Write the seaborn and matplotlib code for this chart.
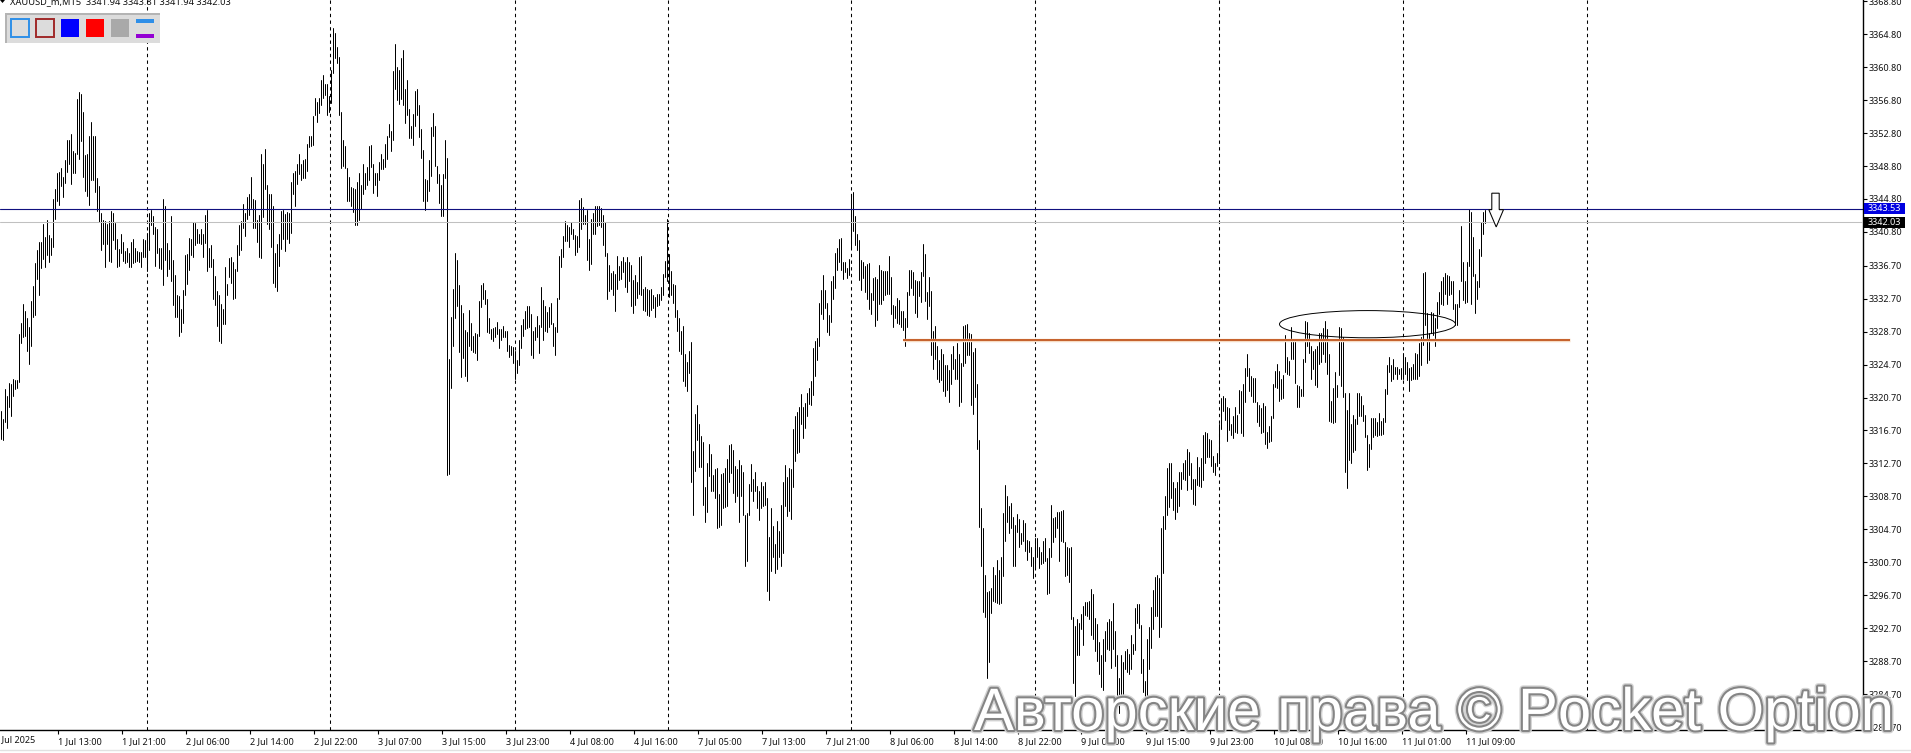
import matplotlib
matplotlib.use("Agg")
import matplotlib.pyplot as plt
import matplotlib.patheffects as pe
from matplotlib.patches import Ellipse, Polygon, Rectangle
from matplotlib.lines import Line2D
from matplotlib.transforms import Affine2D, blended_transform_factory
import pandas as pd
import seaborn as sns

W, H = 1911, 753

highs_a = [3319.1,3318.1,3321.7,3320.9,3322.4,3322.3,3322.9,3322.8,3322.8,3328.4,3329.8,3332.1,3331.2,3330.4,3329.3,3332.4,3334.2,3337.0,3338.6,3339.6,3339.6,3341.8,3340.2,3342.2,3340.4,
3340.1,3344.8,3346.0,3347.9,3348.1,3348.5,3347.5,3349.5,3352.0,3352.0,3352.7,3350.6,3350.4,3356.9,3357.8,3357.6,3355.3,3350.1,3350.3,3352.4,3354.2,3352.4,3352.4,3347.4,3346.4,
3343.1,3342.3,3342.1,3341.8,3342.1,3343.3,3343.1,3341.9,3340.0,3338.7,3340.6,3339.6,3338.5,3338.8,3338.3,3339.6,3339.9,3338.8,3338.5,3338.4,3338.4,3339.9,3339.8,3340.7,3343.1,
3343.5,3342.7,3341.4,3341.2,3338.9,3338.9,3344.8,3344.0,3339.5,3338.6,3342.7,3337.4,3335.6,3333.2,3333.0,3331.4,3333.8,3338.0,3338.1,3340.1,3339.9,3342.0,3341.9,3341.1,3340.5,
3341.1,3340.6,3342.9,3343.5,3338.8,3339.2,3337.5,3335.5,3333.6,3333.2,3332.0,3331.4,3336.5,3334.5,3337.6,3337.8,3337.1,3336.3,3339.2,3341.6,3342.1,3344.2,3343.1,3345.0,3345.4]
lows_a = [3315.7,3315.5,3317.7,3317.0,3319.6,3318.5,3320.9,3321.7,3321.8,3322.6,3327.3,3328.0,3328.2,3326.4,3324.8,3327.0,3330.5,3330.7,3335.1,3333.2,3336.4,3337.5,3336.5,3338.0,3337.2,
3338.0,3339.0,3342.4,3344.5,3344.1,3346.4,3345.0,3346.7,3348.1,3349.0,3346.6,3347.9,3348.0,3350.3,3349.6,3351.8,3347.5,3345.8,3345.2,3344.1,3347.1,3347.1,3345.6,3343.3,3342.0,
3338.6,3339.3,3336.6,3339.3,3337.3,3337.2,3339.8,3338.7,3336.6,3336.7,3338.2,3337.3,3337.0,3337.1,3336.5,3336.5,3337.0,3337.1,3337.3,3337.1,3336.5,3337.8,3337.8,3336.0,3338.6,
3341.6,3340.6,3336.7,3338.3,3336.4,3336.3,3334.3,3337.4,3335.5,3336.3,3334.8,3331.9,3330.5,3330.5,3328.2,3328.7,3329.8,3333.1,3334.5,3336.2,3338.0,3337.7,3339.2,3339.4,3339.4,
3339.3,3337.8,3339.4,3336.1,3336.5,3336.5,3332.6,3331.9,3329.4,3327.6,3327.3,3329.6,3329.6,3333.1,3335.3,3334.6,3332.6,3332.8,3336.0,3338.0,3338.6,3341.3,3340.3,3342.4,3342.9]

highs_b = [3347.5,3344.8,3344.7,3342.3,3342.8,3350.3,3349.0,3350.9,3346.5,3345.4,3345.4,3343.9,3338.2,3339.3,3340.5,3343.3,3343.5,3343.0,3343.2,3343.1,3346.9,3347.9,3348.2,3349.0,3350.3,
3349.1,3349.5,3349.7,3351.5,3352.5,3352.4,3354.9,3357.0,3356.6,3357.1,3359.3,3359.8,3358.8,3358.7,3357.3,3360.5,3365.5,3364.9,3363.3,3362.0,3355.4,3352.0,3351.2,3348.5,3347.5,
3346.3,3346.1,3346.0,3346.9,3348.0,3346.5,3349.0,3348.0,3348.7,3351.2,3351.3,3349.1,3348.0,3347.9,3349.3,3350.3,3349.6,3351.5,3352.5,3353.9,3353.1,3360.3,3363.6,3360.8,3360.5,
3361.9,3362.9,3358.1,3359.2,3355.7,3353.6,3355.1,3357.9,3358.1,3356.2,3353.3,3350.8,3347.2,3347.1,3349.5,3353.5,3355.2,3353.6,3348.8,3347.8,3346.5,3347.8,3352.0,3349.8,3325.4,
3330.5,3333.9,3338.2,3337.4,3334.4,3331.9,3331.0,3328.9,3328.7,3331.3,3329.8,3328.2,3328.5,3328.4,3332.4,3334.4,3334.6,3333.8,3332.6,3330.3,3329.0,3329.1,3329.2,3329.9,3329.0]
lows_b = [3343.7,3341.3,3341.3,3339.6,3337.7,3337.6,3342.6,3346.0,3341.7,3341.1,3339.0,3334.6,3334.1,3333.6,3336.7,3338.7,3339.9,3338.5,3339.9,3339.4,3340.7,3345.4,3343.9,3346.6,3347.8,
3347.1,3347.3,3347.3,3348.2,3351.1,3351.2,3351.3,3355.0,3354.2,3355.2,3356.2,3357.1,3357.4,3355.0,3355.4,3356.5,3360.1,3361.9,3361.3,3355.0,3348.6,3348.8,3348.6,3344.5,3344.6,
3344.0,3343.2,3341.6,3341.6,3342.3,3343.6,3345.4,3346.0,3346.5,3347.1,3348.7,3345.5,3346.5,3345.1,3347.1,3348.4,3348.4,3348.7,3349.7,3352.3,3350.6,3352.0,3358.1,3356.8,3356.3,
3356.9,3356.2,3354.0,3355.0,3352.2,3352.2,3351.3,3353.7,3355.0,3352.3,3349.8,3344.5,3343.5,3344.5,3345.8,3347.6,3352.4,3348.8,3346.7,3344.3,3342.7,3342.7,3347.3,3311.3,3311.4,
3321.8,3326.9,3330.3,3331.8,3326.2,3323.2,3325.5,3323.3,3322.7,3327.0,3326.5,3326.2,3326.1,3325.3,3328.2,3331.7,3332.6,3332.0,3328.6,3328.5,3327.8,3327.6,3328.1,3328.4,3326.7]

highs_c = [3329.0,3329.4,3328.8,3328.8,3327.1,3326.9,3326.8,3326.4,3325.2,3327.7,3329.5,3330.2,3331.2,3331.8,3331.8,3330.8,3328.8,3329.2,3330.6,3329.5,3334.1,3332.5,3331.8,3331.1,3331.7,
3332.2,3329.7,3329.2,3332.8,3337.9,3338.7,3340.3,3342.1,3341.6,3341.4,3342.0,3341.2,3340.4,3340.3,3344.7,3344.9,3343.8,3342.8,3343.5,3339.9,3342.4,3343.1,3343.9,3343.9,3343.9,
3343.7,3342.8,3342.0,3338.3,3336.8,3335.8,3336.0,3335.7,3337.9,3336.7,3337.3,3337.7,3337.1,3337.7,3337.2,3336.8,3335.0,3335.6,3334.7,3337.7,3337.9,3333.9,3334.1,3333.9,3333.7,
3333.9,3333.1,3332.9,3333.3,3333.3,3334.1,3335.7,3337.3,3342.4,3338.1,3336.0,3334.5,3334.3,3331.3,3330.4,3328.8,3329.4,3326.0,3325.0,3326.3,3327.4,3314.2,3318.7,3319.8,3317.5,
3316.0,3315.3,3309.8,3312.7,3315.0,3313.8,3311.3,3312.0,3312.1,3309.0,3311.4,3311.5,3312.1,3313.2,3314.9,3315.0,3314.3,3312.4,3312.0,3313.1,3312.5,3311.7,3306.4,3306.7,3310.2]
lows_c = [3327.7,3328.1,3328.0,3326.3,3325.6,3325.8,3324.9,3322.9,3323.7,3324.7,3326.7,3328.2,3329.0,3329.1,3329.2,3325.8,3325.5,3327.7,3328.1,3326.1,3329.3,3327.7,3328.8,3328.6,3329.2,
3329.6,3326.9,3325.8,3328.7,3332.6,3336.6,3337.7,3339.7,3339.7,3339.0,3340.5,3340.0,3338.0,3338.4,3339.0,3341.1,3341.8,3341.8,3337.4,3336.2,3336.9,3340.5,3340.5,3341.5,3341.6,
3341.4,3339.2,3337.9,3332.6,3333.6,3333.9,3333.1,3331.2,3333.9,3335.0,3335.1,3335.9,3334.1,3333.5,3334.8,3331.8,3331.0,3331.9,3332.8,3333.3,3333.2,3331.3,3331.2,3330.7,3330.6,
3331.3,3331.6,3330.5,3331.8,3331.9,3332.5,3333.1,3335.3,3334.8,3332.9,3333.1,3332.2,3330.5,3328.8,3326.4,3326.0,3322.7,3322.1,3321.5,3323.7,3310.4,3306.4,3311.8,3315.5,3312.3,
3312.3,3307.7,3305.6,3306.8,3311.2,3309.4,3309.4,3308.5,3304.9,3305.0,3305.2,3307.3,3307.4,3307.5,3310.4,3311.5,3309.1,3308.0,3308.8,3305.6,3308.7,3306.4,3300.3,3300.9,3306.4]

highs_d = [3312.6,3310.8,3311.7,3309.9,3309.4,3310.4,3310.0,3310.4,3308.5,3303.8,3307.3,3305.1,3302.9,3305.7,3304.5,3307.6,3310.5,3312.5,3311.0,3312.2,3312.0,3316.9,3318.4,3318.9,3319.6,
3321.1,3319.5,3320.0,3321.2,3321.8,3322.7,3326.7,3327.5,3327.9,3332.2,3333.7,3335.6,3333.7,3332.2,3330.7,3334.8,3335.5,3338.2,3338.8,3340.0,3340.1,3337.1,3337.1,3336.4,3337.5,
3345.1,3345.6,3342.7,3340.6,3339.8,3337.4,3337.1,3336.7,3336.9,3337.0,3333.4,3335.2,3335.3,3335.1,3336.8,3336.2,3336.0,3336.0,3336.0,3337.9,3335.3,3331.9,3331.8,3332.8,3332.5,
3331.2,3331.2,3330.4,3333.5,3336.2,3336.2,3335.9,3335.0,3334.8,3334.8,3335.9,3339.3,3338.1,3333.5,3335.3,3333.6,3328.8,3329.4,3326.9,3325.2,3326.6,3326.0,3324.6,3324.6,3324.0,
3326.0,3326.9,3325.4,3327.3,3326.0,3324.9,3329.4,3329.5,3329.6,3328.5,3328.4,3326.2,3326.7,3322.3,3315.6,3307.3,3304.8,3299.1,3297.1,3297.2,3297.6,3300.1,3299.1,3301.0,3299.8]
lows_d = [3309.3,3308.1,3309.4,3307.3,3305.8,3307.3,3307.5,3307.7,3297.2,3296.1,3299.6,3301.3,3299.4,3299.9,3301.3,3300.2,3301.8,3307.5,3306.3,3306.9,3305.9,3309.8,3313.0,3314.0,3314.1,
3317.5,3315.8,3317.0,3318.5,3319.9,3319.8,3321.0,3323.3,3325.2,3327.0,3330.8,3330.2,3331.6,3328.7,3328.3,3329.9,3332.6,3334.0,3336.2,3337.1,3336.2,3335.1,3335.9,3335.2,3335.6,
3338.8,3340.9,3339.2,3338.6,3335.0,3333.7,3335.2,3333.5,3332.6,3331.4,3330.8,3332.5,3329.4,3330.1,3332.0,3332.0,3332.5,3333.2,3333.3,3333.3,3330.8,3329.3,3330.3,3329.7,3329.6,
3329.3,3328.9,3327.0,3329.2,3333.1,3334.0,3333.1,3331.0,3330.5,3333.0,3332.3,3335.5,3332.4,3330.2,3331.8,3325.8,3324.1,3325.4,3322.9,3322.6,3322.8,3321.5,3320.9,3321.6,3320.2,
3322.3,3324.1,3323.0,3322.9,3319.7,3320.2,3324.5,3324.9,3325.8,3325.8,3319.8,3318.7,3320.8,3314.4,3305.0,3300.3,3294.7,3294.0,3286.6,3288.6,3294.5,3296.0,3295.9,3295.8,3295.6]

highs_e = [3301.3,3306.7,3310.1,3308.7,3307.5,3307.9,3306.2,3305.2,3306.5,3305.9,3304.2,3305.8,3305.5,3303.4,3303.3,3302.6,3301.4,3303.7,3303.7,3302.6,3301.9,3303.3,3303.7,3301.2,3302.4,
3307.7,3306.1,3306.2,3306.8,3306.8,3306.9,3307.0,3303.1,3302.6,3302.4,3302.6,3294.0,3293.0,3293.8,3293.3,3294.4,3295.4,3295.9,3295.9,3296.0,3297.5,3296.8,3293.9,3293.2,3291.0,
3289.5,3291.4,3292.4,3293.5,3293.8,3293.6,3295.8,3292.3,3289.4,3286.7,3289.4,3288.6,3289.9,3290.2,3289.6,3291.9,3290.8,3295.2,3295.6,3295.6,3293.1,3289.0,3286.3,3291.4,3292.9,
3295.3,3297.3,3298.9,3299.2,3298.8,3304.9,3306.3,3308.7,3312.2,3312.7,3312.7,3310.4,3309.7,3310.5,3311.7,3311.7,3312.7,3313.1,3314.4,3314.1,3312.7,3310.8,3310.8,3313.5,3312.3]
lows_e = [3295.8,3299.0,3303.3,3305.6,3304.2,3304.8,3300.2,3300.3,3304.4,3302.6,3302.9,3303.3,3302.1,3301.0,3301.9,3300.3,3298.8,3300.1,3301.3,3300.0,3300.5,3300.6,3300.9,3296.8,3297.0,
3301.4,3303.1,3303.8,3304.9,3300.9,3303.3,3303.1,3299.0,3299.1,3298.3,3293.8,3286.1,3284.5,3289.5,3289.5,3292.6,3290.7,3294.3,3294.2,3293.8,3291.9,3291.4,3289.9,3288.7,3287.1,
3285.5,3285.2,3288.7,3290.2,3290.1,3287.9,3290.2,3288.1,3284.0,3282.4,3284.0,3284.0,3287.7,3287.4,3287.1,3287.8,3289.6,3290.0,3293.3,3292.7,3287.3,3285.0,3283.7,3284.5,3287.7,
3290.3,3292.6,3294.2,3294.2,3291.6,3292.8,3299.4,3304.7,3306.4,3307.4,3308.5,3307.1,3306.0,3306.8,3307.5,3309.6,3310.8,3310.7,3309.5,3311.3,3309.6,3307.8,3307.7,3310.1,3310.0]

highs_f = [3313.3,3316.1,3316.5,3316.4,3315.7,3315.6,3313.6,3312.7,3314.0,3317.5,3320.6,3320.9,3320.6,3319.5,3319.4,3317.5,3318.4,3319.6,3318.6,3321.6,3321.5,3322.3,3324.3,3326.0,3324.3,
3323.3,3323.1,3323.1,3320.1,3319.8,3319.4,3320.0,3319.7,3316.5,3317.3,3318.4,3322.3,3323.9,3324.8,3323.9,3323.0,3323.4,3328.3,3325.6,3325.1,3329.2,3327.7,3327.7,3322.2,3322.1,
3321.7,3325.4,3330.0,3329.9,3328.5,3326.9,3326.4,3326.6,3326.9,3328.5,3328.5,3329.1,3330.0,3329.0,3326.0,3320.3,3321.8,3323.8,3322.2,3329.2,3329.1,3328.1,3321.2,3319.2,3321.3,
3317.5,3318.6,3318.1,3321.3,3321.2,3320.9,3319.8,3318.6,3316.1,3315.0,3318.2,3318.2,3318.2,3317.7,3318.8,3317.9,3318.2,3321.7,3324.7,3325.6,3324.7,3325.4,3324.4,3324.4,3324.2,
3324.3,3326.1,3325.6,3325.0,3324.3,3324.4,3324.8,3326.1,3326.0,3327.3,3328.0,3335.8,3335.9,3331.0,3328.5,3331.1,3331.0,3330.3,3332.3,3333.5,3334.8,3335.3,3335.8,3335.6,3335.4,
3334.9,3334.9,3332.1,3332.0,3333.7,3341.5,3337.1,3334.8,3337.1,3343.6,3343.2,3340.2,3335.7,3334.9,3338.7,3342.0,3343.2,3343.4]
lows_f = [3309.8,3310.7,3312.7,3313.5,3313.5,3312.4,3311.7,3311.3,3312.4,3312.7,3316.9,3319.1,3318.0,3315.4,3316.7,3316.2,3315.8,3316.5,3316.4,3318.8,3316.4,3316.0,3320.2,3323.3,3321.5,
3320.9,3320.2,3320.2,3317.7,3317.3,3316.4,3316.5,3315.1,3314.6,3315.3,3315.4,3318.2,3322.0,3321.9,3320.3,3320.5,3320.6,3323.8,3323.5,3323.4,3325.4,3325.4,3322.4,3319.6,3319.6,
3320.9,3320.9,3325.0,3326.9,3326.1,3322.9,3324.2,3322.2,3322.0,3324.8,3325.0,3326.0,3325.0,3323.6,3317.9,3317.7,3317.6,3317.7,3320.8,3323.4,3322.1,3320.8,3311.7,3309.7,3313.1,
3312.7,3314.1,3314.3,3317.5,3318.5,3318.4,3317.9,3315.9,3311.9,3312.3,3314.5,3315.9,3316.1,3316.0,3316.1,3316.1,3316.3,3317.7,3321.1,3323.8,3322.7,3323.0,3323.6,3323.0,3323.5,
3323.0,3322.9,3323.5,3322.8,3321.5,3322.8,3322.9,3323.0,3323.0,3323.3,3324.6,3327.1,3329.5,3324.9,3325.2,3328.5,3328.3,3326.9,3329.1,3330.8,3332.1,3331.9,3333.3,3332.1,3333.2,
3333.3,3331.4,3329.5,3329.5,3331.7,3334.9,3332.5,3332.2,3332.3,3336.7,3332.0,3335.5,3330.9,3332.7,3334.1,3337.9,3340.5,3341.9]

highs = highs_a + highs_b + highs_c + highs_d + highs_e + highs_f
lows = lows_a + lows_b + lows_c + lows_d + lows_e + lows_f

price_labels = ["3368.80","3364.80","3360.80","3356.80","3352.80","3348.80","3344.80","3340.80",
                "3336.70","3332.70","3328.70","3324.70","3320.70","3316.70","3312.70","3308.70",
                "3304.70","3300.70","3296.70","3292.70","3288.70","3284.70","3280.70"]
time_labels = ["1 Jul 13:00","1 Jul 21:00","2 Jul 06:00","2 Jul 14:00","2 Jul 22:00","3 Jul 07:00",
               "3 Jul 15:00","3 Jul 23:00","4 Jul 08:00","4 Jul 16:00","7 Jul 05:00","7 Jul 13:00",
               "7 Jul 21:00","8 Jul 06:00","8 Jul 14:00","8 Jul 22:00","9 Jul 07:00","9 Jul 15:00",
               "9 Jul 23:00","10 Jul 08:00","10 Jul 16:00","11 Jul 01:00","11 Jul 09:00"]
time_bars = [28.6,60.6,92.6,124.6,156.6,188.6,220.6,252.6,284.6,316.6,348.6,380.6,412.6,444.6,
             476.6,508.6,540.1,572.6,604.6,636.6,668.6,700.6,732.6]
separator_bars = [73.0,164.6,256.9,333.15,425.1,516.65,608.65,700.65,792.65]
first_label = "1 Jul 2025"
blue_level = 3343.53
last_price = 3342.03
orange_level = 3327.7
orange_span = [450.65, 784.15]

sns.set_theme(style="white")
plt.rcParams["font.family"] = ["Noto Sans", "DejaVu Sans"]

n = len(highs)
assert n == len(lows)
bars = pd.DataFrame({
    "bar": list(range(n)) * 2,
    "price": highs + lows,
})

fig = plt.figure(figsize=(W / 100, H / 100), dpi=100, facecolor="white")
ax = fig.add_axes([0, 23 / H, 1863 / W, 730 / H])
ax.set_xlim(-0.6, 1863 / 2 - 0.6)
ax.set_ylim(3280.34, 3368.95)

for s in separator_bars:
    ax.axvline(s, color="black", lw=0.75, dashes=(3.2, 3.2), zorder=1)

sns.lineplot(data=bars, x="bar", y="price", units="bar", estimator=None, sort=False,
             color="black", linewidth=0.72, legend=False, ax=ax, zorder=2)

ax.axhline(last_price, color="#c0c0c0", lw=0.75, zorder=3)
ax.axhline(blue_level, color="#10107f", lw=0.8, zorder=3)
ax.plot(orange_span, [orange_level] * 2, color="#c5602a", lw=1.4, zorder=3,
        solid_capstyle="butt",
        path_effects=[pe.Stroke(linewidth=2.5, foreground="#f6dcc4"), pe.Normal()])

ax.add_patch(Ellipse((683.15, 3329.6), 88, 3.3, fill=False, edgecolor="black", lw=0.7, zorder=4))
ax.add_patch(Polygon([(745.3, 3345.5), (749.0, 3345.5), (749.0, 3343.5), (751.15, 3343.5),
                      (747.5, 3341.4), (743.8, 3343.5), (745.3, 3343.5)],
                     closed=True, facecolor="white", edgecolor="black", lw=0.75, zorder=5))

ax.set_xlabel("")
ax.set_ylabel("")
for side in ("top", "left"):
    ax.spines[side].set_visible(False)
for side in ("bottom", "right"):
    ax.spines[side].set_color("black")
    ax.spines[side].set_linewidth(1.0)

ax.set_xticks(time_bars)
ax.set_xticklabels(time_labels, ha="left", fontsize=6.5, color="#111111")
ax.tick_params(axis="x", length=3, width=0.8, pad=2.2, color="black", bottom=True)
ax.yaxis.tick_right()
ax.set_yticks([float(v) for v in price_labels])
ax.set_yticklabels(price_labels, fontsize=6.5, color="#111111")
ax.tick_params(axis="y", length=3, width=0.8, pad=0.8, color="black", right=True)

xt = blended_transform_factory(ax.transData, ax.transAxes)
ax.text(-3.4, -9.5 / 730, first_label, transform=xt, ha="left", va="center",
        fontsize=6.5, color="#111111", clip_on=False)

px = Affine2D().scale(1 / W, -1 / H).translate(0, 1) + fig.transFigure


def box(x0, y0, x1, y1, face, edge="none", lw=0.0, z=10):
    fig.add_artist(Rectangle((x0, y0), x1 - x0, y1 - y0, transform=px, facecolor=face,
                             edgecolor=edge, linewidth=lw, zorder=z))


# toolbar
box(5, 13, 160, 43, "#dcdcdc")
box(5, 13, 160, 15, "#b4b4b4", z=11)
box(5, 13, 7, 43, "#b4b4b4", z=11)
box(11, 19, 29, 37, "#dcdcdc", "#2f8fe8", 1.4, 12)
box(36, 19, 54, 37, "#dcdcdc", "#a02a2a", 1.4, 12)
box(61, 19, 79, 37, "#0000ff", z=12)
box(86, 19, 104, 37, "#ff0000", z=12)
box(111, 19, 129, 37, "#a9a9a9", z=12)
box(136, 19, 154, 23, "#2f8fe8", z=12)
box(136, 34, 154, 38, "#9400d3", z=12)

# header text and instrument marker
fig.text(10 / W, 1 - 1.5 / H, "XAUUSD_m,M15  3341.94 3343.81 3341.94 3342.03", fontsize=6.7,
         ha="left", va="center", color="#111111")
fig.add_artist(Polygon([(0, 0), (5, 0), (2.5, 3)], closed=True, transform=px, facecolor="black",
                       edgecolor="none"))

# price tags
box(1864, 203, 1905, 214, "#0000e0", z=8)
box(1864, 217, 1905, 228, "#000000", z=8)
fig.text(1884.5 / W, 1 - 208.5 / H, f"{blue_level:.2f}", color="white", fontsize=6.5,
         ha="center", va="center", zorder=9)
fig.text(1884.5 / W, 1 - 222.5 / H, f"{last_price:.2f}", color="white", fontsize=6.5,
         ha="center", va="center", zorder=9)

# bottom band line
fig.add_artist(Line2D([0, W], [750, 750], transform=px, color="#e2e2e2", lw=1.0))

# watermark
fig.text(974 / W, 1 - 730 / H, "Авторские права © Pocket Option", family="Liberation Sans",
         fontsize=43.1, color="white", ha="left", va="baseline", zorder=20,
         path_effects=[pe.Stroke(linewidth=5.0, foreground="#d4d4d4"),
                       pe.Stroke(linewidth=3.0, foreground="#858585"),
                       pe.Normal()])

fig.savefig("out.png", dpi=100, facecolor="white")
